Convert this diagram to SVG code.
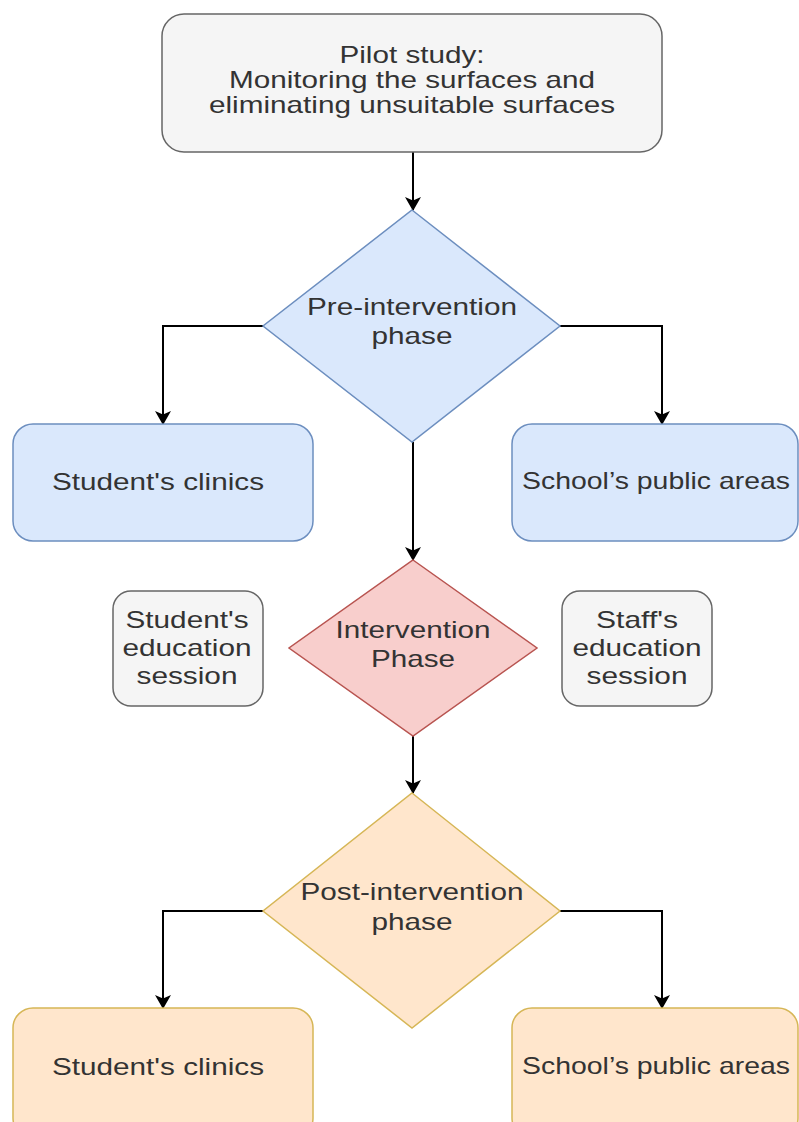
<svg xmlns="http://www.w3.org/2000/svg" width="799" height="1122" viewBox="0 0 799 1122">
<style>
text{font-family:"Liberation Sans",Arial,sans-serif;font-size:24px;fill:#333333;text-anchor:middle}
.gray{fill:#f5f5f5;stroke:#666666;stroke-width:1.5}
.blue{fill:#dae8fc;stroke:#6c8ebf;stroke-width:1.5}
.pink{fill:#f8cecc;stroke:#b85450;stroke-width:1.5}
.orange{fill:#ffe6cc;stroke:#d6b656;stroke-width:1.5}
.edge{fill:none;stroke:#000000;stroke-width:2;marker-end:url(#arrow)}
</style>
<defs>
<marker id="arrow" markerUnits="userSpaceOnUse" markerWidth="14" markerHeight="16" viewBox="0 0 14 16" refX="13" refY="8" orient="auto">
<path d="M0,0 L14,8 L0,16 L3.5,8 Z" fill="#000000"/>
</marker>
</defs>
<rect width="799" height="1122" fill="#ffffff"/>
<g id="connectors">
<path class="edge" d="M413,152 L413,210"/>
<path class="edge" d="M263,326 L163,326 L163,424"/>
<path class="edge" d="M560,326 L662,326 L662,424"/>
<path class="edge" d="M413,442 L413,560"/>
<path class="edge" d="M413,736 L413,793"/>
<path class="edge" d="M263,911 L163,911 L163,1008"/>
<path class="edge" d="M560,911 L662,911 L662,1008"/>
</g>
<g id="pilot">
<rect class="gray" x="162" y="14" width="500" height="138" rx="22"/>
<text x="412" y="63" textLength="145" lengthAdjust="spacingAndGlyphs">Pilot study:</text>
<text x="412" y="88" textLength="366" lengthAdjust="spacingAndGlyphs">Monitoring the surfaces and</text>
<text x="412" y="113" textLength="406" lengthAdjust="spacingAndGlyphs">eliminating unsuitable surfaces</text>
</g>
<g id="pre">
<polygon class="blue" points="412,210 560,326 412,442 263,326"/>
<text x="412" y="315" textLength="210" lengthAdjust="spacingAndGlyphs">Pre-intervention</text>
<text x="412" y="344" textLength="81" lengthAdjust="spacingAndGlyphs">phase</text>
</g>
<g id="pre-clinics">
<rect class="blue" x="13" y="424" width="300" height="117" rx="20"/>
<text x="158" y="490" textLength="212" lengthAdjust="spacingAndGlyphs">Student's clinics</text>
</g>
<g id="pre-public">
<rect class="blue" x="512" y="424" width="286" height="117" rx="20"/>
<text x="656" y="489" textLength="268" lengthAdjust="spacingAndGlyphs">School’s public areas</text>
</g>
<g id="intervention">
<polygon class="pink" points="413,560 537,648 413,736 289,648"/>
<text x="413" y="638" textLength="155" lengthAdjust="spacingAndGlyphs">Intervention</text>
<text x="413" y="667" textLength="84" lengthAdjust="spacingAndGlyphs">Phase</text>
</g>
<g id="student-edu">
<rect class="gray" x="113" y="591" width="150" height="115" rx="18"/>
<text x="187" y="628" textLength="123" lengthAdjust="spacingAndGlyphs">Student's</text>
<text x="187" y="656" textLength="129" lengthAdjust="spacingAndGlyphs">education</text>
<text x="187" y="684" textLength="101" lengthAdjust="spacingAndGlyphs">session</text>
</g>
<g id="staff-edu">
<rect class="gray" x="562" y="591" width="150" height="115" rx="18"/>
<text x="637" y="628" textLength="82" lengthAdjust="spacingAndGlyphs">Staff's</text>
<text x="637" y="656" textLength="129" lengthAdjust="spacingAndGlyphs">education</text>
<text x="637" y="684" textLength="101" lengthAdjust="spacingAndGlyphs">session</text>
</g>
<g id="post">
<polygon class="orange" points="412,793 560,911 412,1028 263,911"/>
<text x="412" y="900" textLength="223" lengthAdjust="spacingAndGlyphs">Post-intervention</text>
<text x="412" y="930" textLength="81" lengthAdjust="spacingAndGlyphs">phase</text>
</g>
<g id="post-clinics">
<rect class="orange" x="13" y="1008" width="300" height="130" rx="20"/>
<text x="158" y="1075" textLength="212" lengthAdjust="spacingAndGlyphs">Student's clinics</text>
</g>
<g id="post-public">
<rect class="orange" x="512" y="1008" width="286" height="130" rx="20"/>
<text x="656" y="1074" textLength="268" lengthAdjust="spacingAndGlyphs">School’s public areas</text>
</g>
</svg>
